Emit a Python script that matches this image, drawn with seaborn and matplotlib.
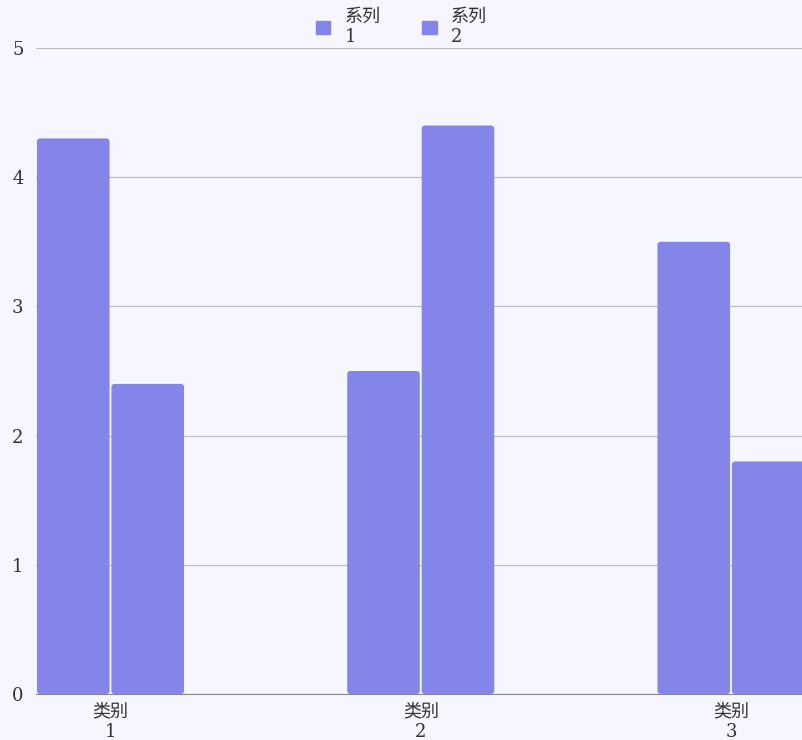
import seaborn as sns
import matplotlib.pyplot as plt
import pandas as pd
from matplotlib.patches import FancyBboxPatch

# 数据
categories = ['类别\n1', '类别\n2', '类别\n3']
series_names = ['系列\n1', '系列\n2']
series1 = [4.3, 2.5, 3.5]
series2 = [2.4, 4.4, 1.8]

bar_color = '#8386e8'
bg_color = '#f5f6fe'

df = pd.DataFrame({
    'category': categories * 2,
    'series': [series_names[0]] * 3 + [series_names[1]] * 3,
    'value': series1 + series2,
})

sns.set_style('white')
plt.rcParams['font.family'] = ['DejaVu Serif', 'Noto Sans CJK SC']

fig = plt.figure(figsize=(8.03, 7.4), dpi=100, facecolor=bg_color)
ax = fig.add_axes([36 / 803, 46 / 740, 1 - 36 / 803, (694 - 48) / 740])
ax.set_facecolor(bg_color)

sns.barplot(data=df, x='category', y='value', hue='series', order=categories,
            hue_order=series_names, palette=[bar_color, bar_color],
            width=0.48, gap=0.025, ax=ax, legend=False)

# 圆角柱子
for p in list(ax.patches):
    x, y = p.get_x(), p.get_y()
    w, h = p.get_width(), p.get_height()
    fb = FancyBboxPatch((x, y), w, h, boxstyle='round,pad=0,rounding_size=0.01',
                        mutation_aspect=2.4, facecolor=bar_color,
                        edgecolor='none', zorder=2)
    ax.add_patch(fb)
    p.set_visible(False)

ax.set_xlim(-0.24, 2.232)
ax.set_ylim(0, 5)
ax.set_yticks([0, 1, 2, 3, 4, 5])
ax.set_xlabel('')
ax.set_ylabel('')
ax.grid(axis='y', color='#bdbdc6', linewidth=0.9)
ax.set_axisbelow(True)
for s in ['top', 'right', 'left']:
    ax.spines[s].set_visible(False)
ax.spines['bottom'].set_color('#888888')
ax.tick_params(axis='both', length=0, labelsize=13, colors='#333333')
ax.tick_params(axis='y', pad=9)
ax.tick_params(axis='x', pad=6)

# 图例
handles = [plt.Rectangle((0, 0), 1, 1, color=bar_color) for _ in series_names]
fig.legend(handles, series_names, loc='upper center', bbox_to_anchor=(0.5, 1.012),
           ncol=2, frameon=False, fontsize=13, handlelength=0.8, handleheight=0.8,
           columnspacing=2.3, handletextpad=0.8, labelcolor='#333333')

fig.savefig('out.png', dpi=100, facecolor=bg_color)
